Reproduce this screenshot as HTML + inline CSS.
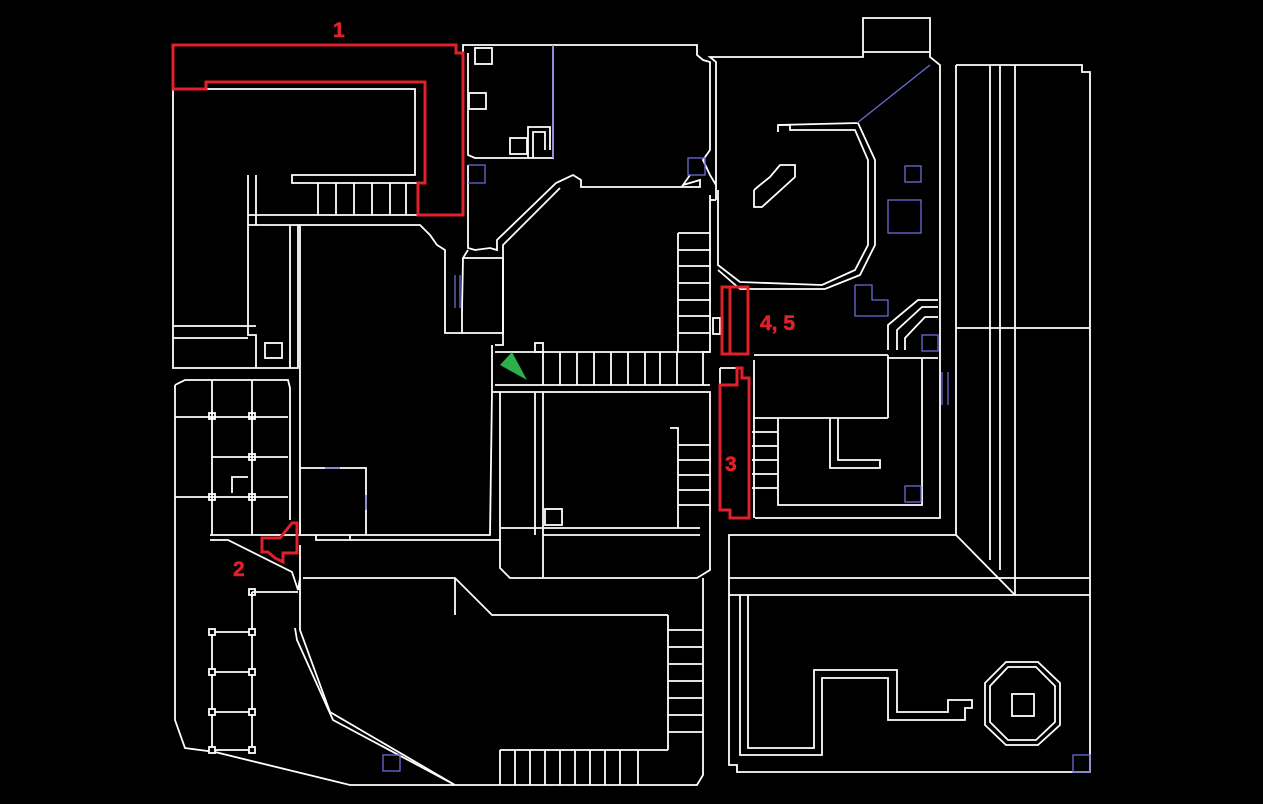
<!DOCTYPE html>
<html><head><style>
html,body{margin:0;padding:0;background:#000;width:1263px;height:804px;overflow:hidden}
svg{display:block}
text{font-family:"Liberation Sans",sans-serif;font-weight:700;fill:#e0202a;font-size:21px;stroke:#e0202a;stroke-width:0.6}
</style></head><body>
<svg width="1263" height="804" viewBox="0 0 1263 804">
<g fill="none" stroke="#fff" stroke-width="1.8">
<polyline points="173,89 173,368 298,368 298,225 420,225 430,235 437,245 445,250 445,333 462,333 462,310 463,258 468,250"/>
<polyline points="205,89 415,89 415,175 292,175 292,183 300,183"/>
<polyline points="248,175 248,335 256,335 256,368"/>
<line x1="173" y1="326" x2="256" y2="326"/><line x1="173" y1="338" x2="248" y2="338"/>
<line x1="256" y1="175" x2="256" y2="225"/><line x1="248" y1="215" x2="300" y2="215"/><line x1="248" y1="225" x2="298" y2="225"/>
<line x1="290" y1="225" x2="290" y2="368"/>
<rect x="265" y="343" width="17" height="15"/>
<line x1="300" y1="183" x2="418" y2="183"/><line x1="300" y1="215" x2="418" y2="215"/>
<path d="M318,183V215M336,183V215M354,183V215M372,183V215M390,183V215M406,183V215"/>
<polyline points="463,53 463,45 697,45 697,55 703,60 710,62 710,150 703,160 710,175 716,185 716,200"/>
<polyline points="468,53 468,155 475,158 553,158 553,45"/>
<polyline points="528,158 528,127 550,127 550,150"/>
<polyline points="533,158 533,132 545,132 545,150"/>
<rect x="475" y="48" width="17" height="16"/><rect x="469" y="93" width="17" height="16"/><rect x="510" y="138" width="17" height="16"/>
<polyline points="468,165 468,248 475,250 490,248 497,250 497,240 556,183 573,175 581,180 581,187 700,187 700,180 683,185 690,175"/>
<polyline points="503,250 503,245 560,188"/>
<line x1="716" y1="200" x2="710" y2="200"/>
<polyline points="463,258 503,258 503,333 462,333"/>
<polyline points="710,195 710,352 703,352 703,385"/>
<polyline points="503,250 503,345 495,345"/>
<line x1="495" y1="352" x2="710" y2="352"/><line x1="495" y1="385" x2="710" y2="385"/>
<path d="M543,352V385M560,352V385M577,352V385M594,352V385M611,352V385M628,352V385M645,352V385M660,352V385M677,352V385"/>
<rect x="535" y="343" width="8" height="9"/>
<line x1="678" y1="233" x2="678" y2="352"/>
<path d="M678,233H710M678,250H710M678,266H710M678,283H710M678,300H710M678,316H710M678,333H710"/>
<rect x="713" y="318" width="7" height="16"/>
<polyline points="300,225 300,535 490,535 492,392 492,345"/>
<polyline points="300,468 366,468 366,535"/>
<polyline points="492,392 710,392 710,570 697,578 510,578 500,568 500,540 492,540"/>
<line x1="535" y1="392" x2="535" y2="535"/><line x1="543" y1="392" x2="543" y2="578"/>
<line x1="500" y1="392" x2="500" y2="540"/>
<line x1="500" y1="528" x2="700" y2="528"/><line x1="543" y1="535" x2="700" y2="535"/>
<rect x="545" y="509" width="17" height="16"/>
<polyline points="670,428 678,428 678,528"/>
<path d="M678,445H710M678,460H710M678,475H710M678,490H710M678,505H710"/>
<polyline points="175,385 185,380 288,380 290,388 290,520"/>
<polyline points="175,385 175,720 185,748 215,752 350,785 455,785"/>
<polyline points="210,535 300,535 300,523"/>
<polyline points="210,540 228,540 292,572 298,590 300,578"/>
<line x1="175" y1="417" x2="288" y2="417"/><line x1="175" y1="497" x2="288" y2="497"/>
<line x1="212" y1="380" x2="212" y2="535"/><line x1="252" y1="380" x2="252" y2="535"/>
<line x1="212" y1="457" x2="288" y2="457"/>
<polyline points="232,493 232,477 248,477"/>
<rect x="209" y="413" width="6" height="6"/><rect x="249" y="413" width="6" height="6"/><rect x="249" y="454" width="6" height="6"/><rect x="209" y="494" width="6" height="6"/><rect x="249" y="494" width="6" height="6"/>
<line x1="252" y1="592" x2="298" y2="592"/>
<rect x="249" y="589" width="6" height="6"/>
<line x1="212" y1="632" x2="252" y2="632"/><line x1="212" y1="672" x2="252" y2="672"/><line x1="212" y1="712" x2="252" y2="712"/><line x1="212" y1="750" x2="252" y2="750"/>
<line x1="212" y1="632" x2="212" y2="750"/><line x1="252" y1="592" x2="252" y2="750"/>
<g fill="#000"><rect x="209" y="629" width="6" height="6"/><rect x="249" y="629" width="6" height="6"/><rect x="209" y="669" width="6" height="6"/><rect x="249" y="669" width="6" height="6"/><rect x="209" y="709" width="6" height="6"/><rect x="249" y="709" width="6" height="6"/><rect x="209" y="747" width="6" height="6"/><rect x="249" y="747" width="6" height="6"/></g>
<polyline points="316,535 316,540 350,540 350,535"/>
<line x1="350" y1="540" x2="492" y2="540"/>
<polyline points="300,545 300,630 330,712 455,785 697,785 703,775 703,578"/>
<polyline points="295,628 297,640 333,720 455,785"/>
<polyline points="303,578 455,578 492,615 668,615"/>
<line x1="455" y1="578" x2="455" y2="615"/>
<line x1="668" y1="615" x2="668" y2="750"/>
<path d="M668,630H703M668,647H703M668,664H703M668,681H703M668,698H703M668,715H703M668,732H703M500,750H668"/>
<path d="M500,750V785M515,750V785M530,750V785M545,750V785M560,750V785M575,750V785M590,750V785M605,750V785M620,750V785M638,750V785"/>
<polyline points="716,185 716,62 710,57 863,57 863,18 930,18 930,57 940,65 940,518 755,518"/>
<line x1="863" y1="52" x2="930" y2="52"/>
<polyline points="718,190 718,265 740,282 822,285 855,270 868,245 868,160 855,130 790,130 790,125 778,125"/>
<polyline points="778,132 778,125 858,123 875,160 875,245 860,275 825,289 740,289 718,270"/>
<polyline points="754,190 754,207 762,207 795,177 795,165 780,165 770,177 760,185 754,190"/>
<line x1="754" y1="355" x2="888" y2="355"/><line x1="888" y1="355" x2="888" y2="418"/>
<line x1="754" y1="418" x2="888" y2="418"/>
<polyline points="888,350 888,325 918,300 938,300"/>
<polyline points="897,350 897,330 922,307 938,307"/>
<polyline points="905,350 905,338 925,317 938,317"/>
<line x1="888" y1="358" x2="938" y2="358"/>
<polyline points="922,358 922,505 778,505 778,418"/>
<line x1="754" y1="360" x2="754" y2="518"/>
<path d="M752,432H778M752,446H778M752,460H778M752,474H778M752,488H778"/>
<polyline points="830,418 830,468 880,468 880,460 838,460 838,418"/>
<line x1="720" y1="368" x2="737" y2="368"/><line x1="720" y1="368" x2="720" y2="385"/>
<polyline points="956,65 1082,65 1082,72 1090,72 1090,772 737,772 737,765 729,765 729,535 956,535 956,65"/>
<line x1="956" y1="328" x2="1090" y2="328"/>
<line x1="990" y1="65" x2="990" y2="560"/><line x1="1000" y1="65" x2="1000" y2="570"/><line x1="1015" y1="65" x2="1015" y2="595"/>
<line x1="729" y1="578" x2="1090" y2="578"/><line x1="729" y1="595" x2="1090" y2="595"/>
<line x1="956" y1="535" x2="1015" y2="595"/>
<polyline points="740,595 740,755 822,755 822,678 888,678 888,720 965,720 965,708 972,708 972,700 948,700 948,712 897,712 897,670 814,670 814,748 748,748 748,595"/>
<polygon points="1006,662 1038,662 1060,683 1060,725 1038,745 1006,745 985,725 985,683"/>
<polygon points="1008,667 1036,667 1055,686 1055,722 1036,740 1008,740 990,722 990,686"/>
<rect x="1012" y="694" width="22" height="22"/>
</g>
<g fill="none" stroke="#6b6bd8" stroke-width="1.3">
<line x1="553" y1="45" x2="553" y2="158"/>
<rect x="688" y="158" width="17" height="17"/><rect x="905" y="166" width="16" height="16"/><rect x="888" y="200" width="33" height="33"/>
<polyline points="855,285 855,316 888,316 888,300 872,300 872,285 855,285"/>
<line x1="857" y1="123" x2="930" y2="65"/>
<rect x="905" y="486" width="16" height="16"/><rect x="922" y="335" width="16" height="16"/>
<rect x="383" y="755" width="17" height="16"/><rect x="1073" y="755" width="17" height="17"/>
<line x1="455" y1="275" x2="455" y2="308"/><line x1="460" y1="275" x2="460" y2="308"/>
<line x1="942" y1="372" x2="942" y2="405"/><line x1="948" y1="372" x2="948" y2="405"/>
<polyline points="468,165 485,165 485,183 468,183"/>
<line x1="366" y1="495" x2="366" y2="510"/><line x1="325" y1="468" x2="340" y2="468"/>
</g>
<g fill="none" stroke="#e0202a" stroke-width="3">
<polygon points="173,45 456,45 456,53 463,53 463,215 418,215 418,183 425,183 425,82 206,82 206,89 173,89"/>
<rect x="722" y="287" width="26" height="67"/><line x1="730" y1="287" x2="730" y2="354"/>
<polygon points="720,385 737,385 737,368 742,368 742,378 749,378 749,518 730,518 730,510 720,510"/>
<polygon points="262,538 280,538 292,523 297,523 297,553 283,553 283,562 275,558 268,552 262,552"/>
</g>
<polygon points="500,365 512,352 527,380" fill="#2db04b"/>
<text x="333" y="37">1</text>
<text x="233" y="576">2</text>
<text x="725" y="471">3</text>
<text x="760" y="330">4, 5</text>
</svg>
</body></html>
